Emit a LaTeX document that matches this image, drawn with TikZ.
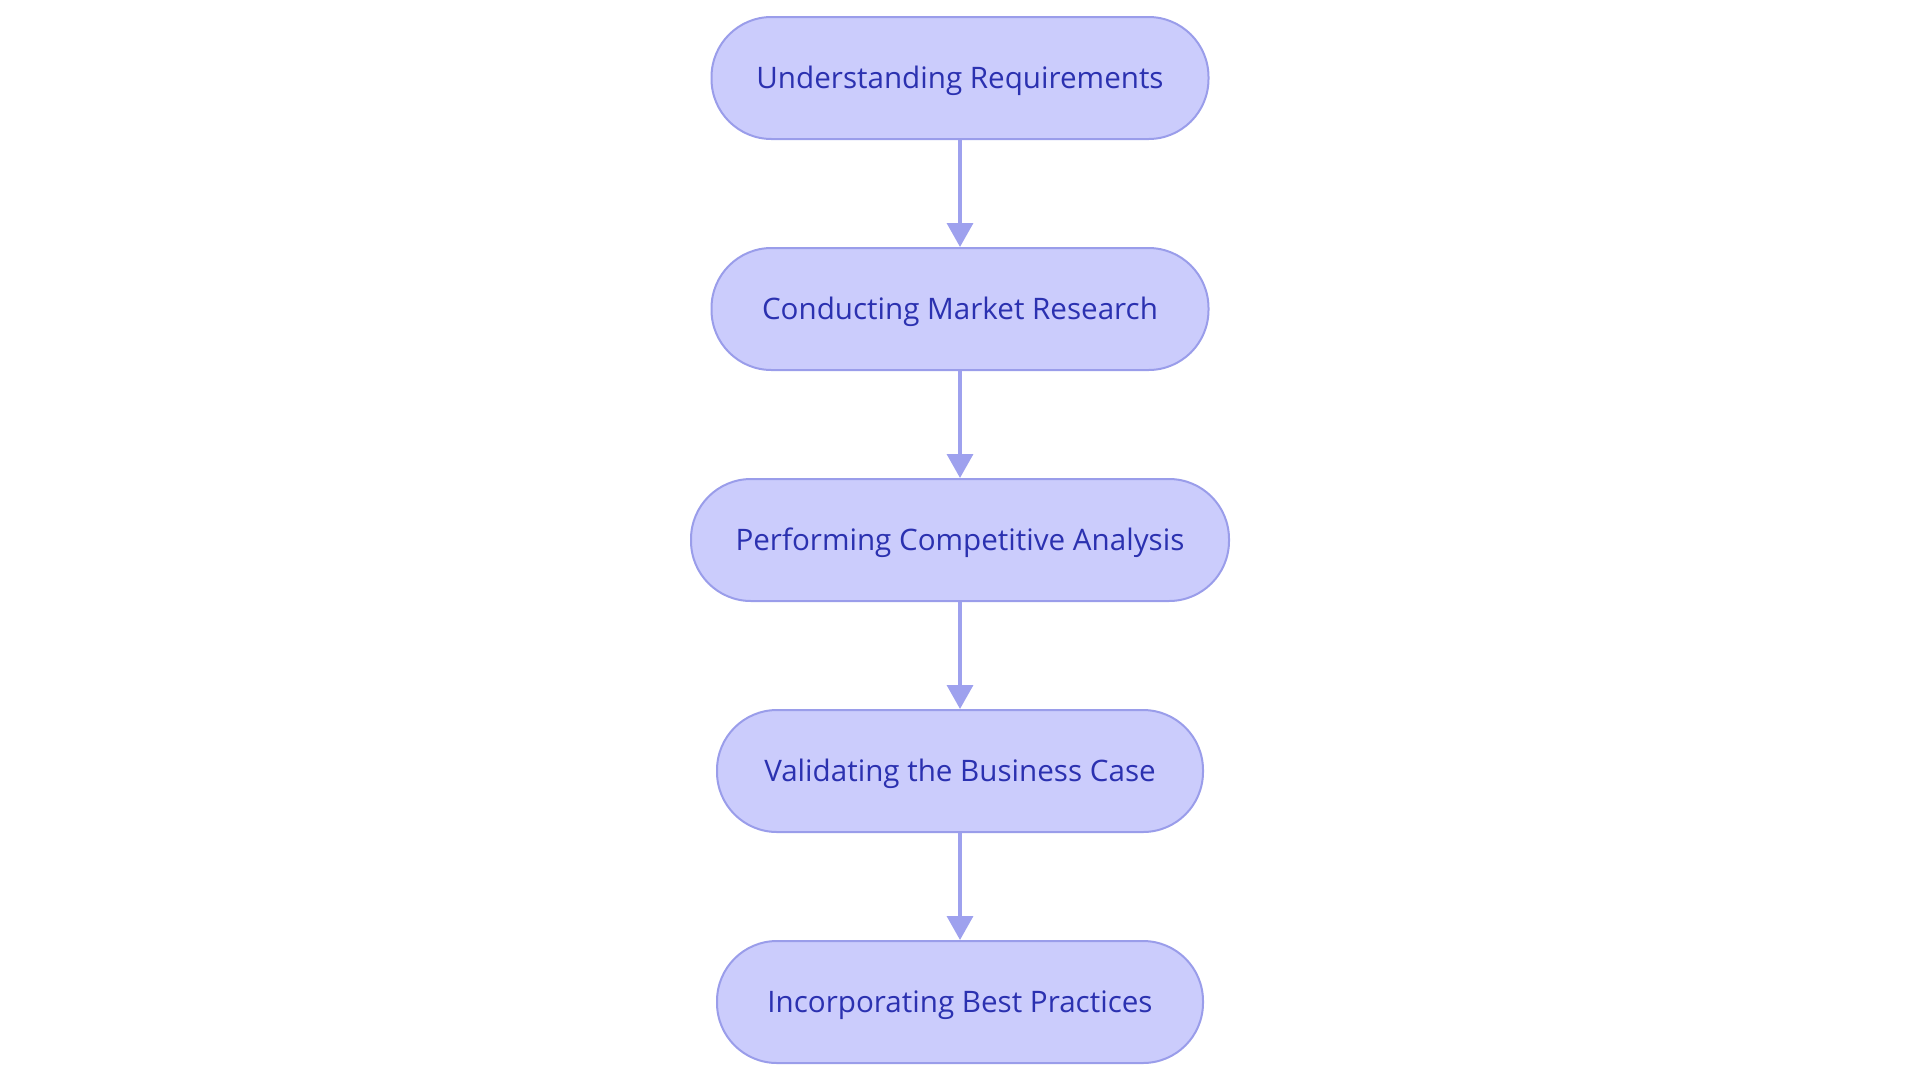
\documentclass[tikz,border=0pt]{standalone}
\usepackage{fontspec}
\setmainfont{Open Sans}
\usetikzlibrary{arrows.meta}
\definecolor{nodefill}{HTML}{CBCCFC}
\definecolor{nodeborder}{HTML}{9A9DEA}
\definecolor{nodetext}{HTML}{2B31B0}
\definecolor{arrowcol}{HTML}{9EA1EE}
\begin{document}
\begin{tikzpicture}[x=1pt,y=1pt,
  stepbox/.style={draw=nodeborder, fill=nodefill, line width=2pt,
    rounded corners=60pt, minimum height=122pt, inner sep=0pt,
    text height=21pt, text depth=0pt,
    text=nodetext, font=\fontsize{29.6}{34}\selectfont},
  flow/.style={draw=arrowcol, line width=3.5pt, -{Triangle[width=26pt,length=24pt]}}]
\useasboundingbox (0,0) rectangle (1920,-1080);
\node[stepbox, minimum width=497pt] (n1) at (960,-78) {Understanding Requirements};
\node[stepbox, minimum width=497pt] (n2) at (960,-309) {Conducting Market Research};
\node[stepbox, minimum width=538pt] (n3) at (960,-540) {Performing Competitive Analysis};
\node[stepbox, minimum width=486pt] (n4) at (960,-771) {Validating the Business Case};
\node[stepbox, minimum width=486pt] (n5) at (960,-1002) {Incorporating Best Practices};
\draw[flow] (n1) -- (n2);
\draw[flow] (n2) -- (n3);
\draw[flow] (n3) -- (n4);
\draw[flow] (n4) -- (n5);
\end{tikzpicture}
\end{document}
